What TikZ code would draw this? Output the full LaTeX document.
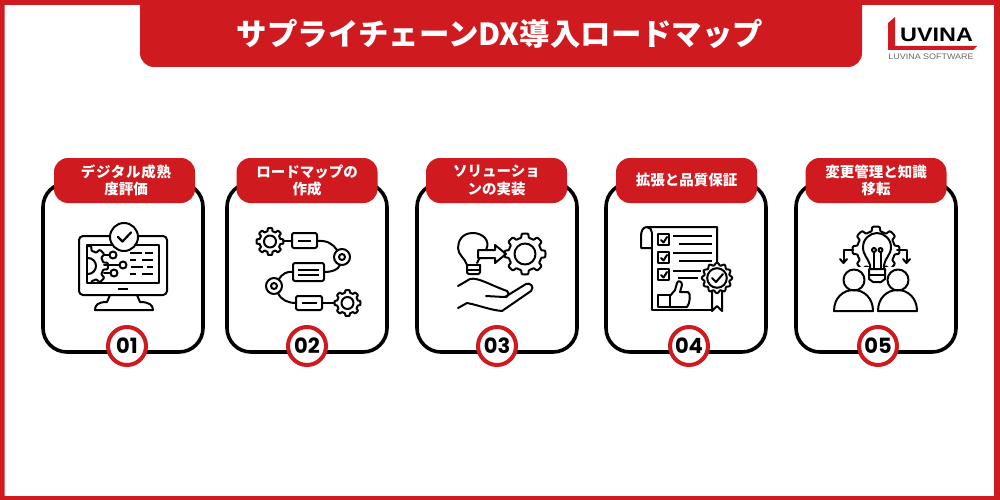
\documentclass[tikz,border=0pt]{standalone}
\usepackage{fontspec}
\setmainfont{Noto Sans CJK JP}
\newfontfamily\numfont{Poppins}
\newfontfamily\logofont{Liberation Sans}
\usetikzlibrary{arrows.meta}
\definecolor{lured}{HTML}{CF1A20}
\definecolor{logogrey}{HTML}{6A6A6A}
\tikzset{
  cardbox/.style={draw=black,line width=3.6,fill=white,rounded corners=24},
  pill/.style={fill=lured,text=white,rounded corners=14,minimum width=141,minimum height=45,inner sep=0,align=center,font=\fontsize{14.5}{17.5}\selectfont\bfseries},
  numdisc/.style={circle,draw=lured,line width=4,fill=white,minimum size=38,inner sep=0,font=\numfont\fontsize{21}{21}\selectfont\bfseries},
  ic/.style={draw=black,line width=2,line join=round,line cap=round},
  icf/.style={ic,fill=white}
}
% colour-style, x, y, outer r, inner r, teeth
\newcommand\gearshape[6]{\draw[#1] plot[samples=\the\numexpr #6*14+1\relax,domain=0:360,variable=\a]
 ({#2+(#5+(#4-#5)*max(0,min(1,0.5+1.6*cos(#6*\a))))*cos(\a)},{#3+(#5+(#4-#5)*max(0,min(1,0.5+1.6*cos(#6*\a))))*sin(\a)}) -- cycle;}
\begin{document}
\begin{tikzpicture}[x=1pt,y=-1pt]
\useasboundingbox (0,0) rectangle (1000,500);
\fill[white] (0,0) rectangle (1000,500);
\fill[lured,even odd rule] (0,0) rectangle (1000,500) (4.5,5) rectangle (994,496);
% title
\fill[lured] (140,0) -- (862,0) -- (862,53) arc[start angle=0,end angle=90,radius=14] -- (154,67) arc[start angle=90,end angle=180,radius=14] -- cycle;
\node[text=white,inner sep=0,font=\fontsize{30.4}{32}\selectfont\bfseries] (title) at (500,34) {サプライチェーンDX導入ロードマップ};
% logo
\fill[lured] (888,23) -- (895,17) -- (895,46) -- (977,46) -- (973,50) -- (888,50) -- cycle;
\node[inner sep=0,font=\logofont\bfseries\fontsize{19.5}{19.5}\selectfont,xscale=1.2] (logoa) at (936.5,35) {UVINA};
\node[inner sep=0,text=logogrey,font=\logofont\fontsize{8}{8}\selectfont,xscale=1.12] (logob) at (931,57) {LUVINA SOFTWARE};
% cards
\draw[cardbox] (43,183) rectangle (203,352);
\draw[cardbox] (227,183) rectangle (387,352);
\draw[cardbox] (417,183) rectangle (577,352);
\draw[cardbox] (606,183) rectangle (766,352);
\draw[cardbox] (796,183) rectangle (956,352);
\node[pill] (p1) at (124.5,180.5) {\hspace{3pt}{\addfontfeature{LetterSpace=5}デジタル成熟}\\\hspace{3pt}度評価};
\node[pill] (p2) at (307,180.5) {ロードマップの\\作成};
\node[pill] (p3) at (496.5,180.5) {ソリューショ\\ンの実装};
\node[pill] (p4) at (686.5,180.5) {拡張と品質保証};
\node[pill] (p5) at (876,180.5) {変更管理と知識\\移転};
\node[numdisc] (n1) at (127,346) {01};
\node[numdisc] (n2) at (307,346) {02};
\node[numdisc] (n3) at (497,346) {03};
\node[numdisc] (n4) at (689,346) {04};
\node[numdisc] (n5) at (878,346) {05};
% icon 1
\draw[ic,rounded corners=4] (79,236) rectangle (167,295);
\draw[ic] (87,245) rectangle (159,283);
\begin{scope}
\clip (87,245) rectangle (159,283);
\gearshape{ic}{88}{266}{20}{15.5}{8}
\draw[ic] (88,258) arc[start angle=-90,end angle=90,radius=8];
\end{scope}
\draw[icf] (124,237) circle[radius=14];
\draw[ic,line width=2.2] (118,237) -- (122.5,241.5) -- (131,232.5);
\draw[ic] (104,255) -- (109.5,255);
\draw[ic] (104,265) -- (119.5,265);
\draw[ic] (104,273) -- (110.5,273);
\draw[ic] (113,255) circle[radius=3.5];
\draw[ic] (123,265) circle[radius=3.5];
\draw[ic] (114,273) circle[radius=3.5];
\foreach \yy/\aa/\bb/\cc/\dd in {253/130/142/145/153,260/130/136/142/153,267/131/143/147/153,274/130/136/142/153}
  \draw[ic,line cap=butt] (\aa,\yy) -- (\bb,\yy) (\cc,\yy) -- (\dd,\yy);
\draw[ic,line cap=butt] (118,289) -- (128,289);
\draw[ic] (110,295) -- (107,302) .. controls (98,302) and (95,305) .. (95,310) -- (153,310) .. controls (153,305) and (149,302) .. (140,302) -- (137,295);
% icon 2
\gearshape{ic}{270}{241.5}{13.5}{10.5}{8}
\draw[ic] (270,241.5) circle[radius=6];
\draw[ic] (283,241) -- (292,241);
\draw[ic,rounded corners=2] (292,233) rectangle (317,248);
\draw[ic,line cap=butt] (298,241) -- (311,241);
\draw[ic] (317,241) .. controls (327,240) and (333,244) .. (337,250);
\draw[ic] (342,257) circle[radius=8];
\draw[ic] (342,257) circle[radius=3];
\draw[ic,rounded corners=2] (293,263) rectangle (324,281);
\draw[ic,line cap=butt] (298,269.5) -- (319,269.5) (298,275) -- (319,275);
\draw[ic] (324,272) .. controls (332,272) and (338,270) .. (340,265);
\draw[ic] (293,272) .. controls (287,271) and (282,274) .. (279,279);
\draw[ic] (274,286) circle[radius=8];
\draw[ic] (274,286) circle[radius=3];
\draw[ic] (278,293) .. controls (281,300) and (288,303) .. (296,303);
\draw[ic,rounded corners=2] (296,296) rectangle (322,310);
\draw[ic,line cap=butt] (302,303) -- (317,303);
\draw[ic] (322,303) -- (334,303);
\gearshape{ic}{347.5}{303}{13}{10.5}{8}
\draw[ic] (347.5,303) circle[radius=6];
% icon 3
\draw[ic] (477,263) .. controls (478,260) and (480,258) .. (480,258)
  (486,250) .. controls (491,240) and (482,233) .. (473,233) .. controls (462,233) and (458,241) .. (458,248) .. controls (458,255) and (465,258) .. (467,265);
\draw[ic] (467,265) -- (480,265);
\draw[ic,rounded corners=2] (467,265) -- (467,274) -- (480,274) -- (480,265);
\draw[ic,line cap=butt] (467,270) -- (480,270);
\draw[icf] (478,250) -- (495,250) -- (495,245) -- (506,254) -- (495,263) -- (495,258) -- (478,258) -- cycle;
\gearshape{ic}{525}{254}{20.5}{16.5}{8}
\draw[ic] (525,254) circle[radius=10.5];
\draw[ic] (458,286) -- (470,279) .. controls (478,277) and (490,285) .. (507,291) .. controls (510,293) and (508,298) .. (504,297) -- (486,296);
\draw[ic] (505,297) -- (526,284) .. controls (530,282) and (535,287) .. (531,291) -- (502,311) .. controls (490,310) and (478,305) .. (467,303) -- (458,308);
% icon 4
\draw[ic] (652,233) -- (652,310) -- (712,310);
\draw[ic] (717,263) -- (717,227) -- (647,227) .. controls (643,227) and (641,231) .. (641,236) -- (641,248) -- (652,248);
\draw[ic] (647,227) .. controls (650,227) and (652,230) .. (652,233);
\foreach \yy in {234,252,269}{
  \draw[ic] (658,\yy) rectangle (669,\yy+11);
  \draw[ic] (661,\yy+6) -- (663.5,\yy+8.5) -- (667,\yy+3);
}
\foreach \aa/\bb/\yy in {673/712/236,679/712/244,673/712/253,679/712/261,673/701/271,678/698/278}
  \draw[ic,line cap=butt] (\aa,\yy) -- (\bb,\yy);
\draw[ic] (658,295) rectangle (670,307);
\draw[ic] (670,296) -- (675,290) -- (677,283) .. controls (678,280) and (682,281) .. (682,285) -- (680,292) -- (688,292) .. controls (691,293) and (690,304) .. (687,307) -- (670,307);
\draw[icf] (712,286) -- (712,311) -- (717,306) -- (722,311) -- (722,286);
\draw[icf] plot[samples=121,domain=0:360,variable=\a] ({717+(14+1.2*cos(12*\a))*cos(\a)},{278+(14+1.2*cos(12*\a))*sin(\a)}) -- cycle;
\draw[ic] (717,278) circle[radius=9.8];
\draw[ic] (712,278) -- (716,282) -- (723,274);
% icon 5
\begin{scope}
\clip (840,220) rectangle (914,266);
\gearshape{ic}{876}{250}{23.5}{19}{8}
\end{scope}
\draw[ic] (870,269) -- (870,265) .. controls (868,258) and (863,255) .. (863,247) .. controls (863,239) and (870,233) .. (877,233) .. controls (884,233) and (891,239) .. (891,247) .. controls (891,255) and (885,258) .. (884,265) -- (884,269);
\draw[ic] (874,250) circle[radius=2];
\draw[ic] (880.5,250) circle[radius=2];
\draw[ic] (874,252) -- (874,269) (880.5,252) -- (880.5,269);
\draw[ic] (869,269) -- (885,269) -- (885,279) -- (881,282) -- (873,282) -- (869,279) -- cycle;
\draw[ic,line cap=butt] (869,274.5) -- (885,274.5);
\draw[ic] (853,250) -- (843.5,250) -- (843.5,262);
\draw[ic] (840,259) -- (843.5,263) -- (847,259);
\draw[ic] (897,250) -- (906.5,250) -- (906.5,262);
\draw[ic] (903,259) -- (906.5,263) -- (910,259);
\draw[icf] (854,280) circle[radius=10.5];
\draw[icf] (898,280) circle[radius=10.5];
\draw[ic] (834,311) .. controls (834,298) and (843,290) .. (853.5,290) .. controls (864,290) and (873,298) .. (873,311) -- cycle;
\draw[ic] (878,311) .. controls (878,298) and (887,290) .. (897.5,290) .. controls (908,290) and (917,298) .. (917,311) -- cycle;
\end{tikzpicture}
\end{document}
